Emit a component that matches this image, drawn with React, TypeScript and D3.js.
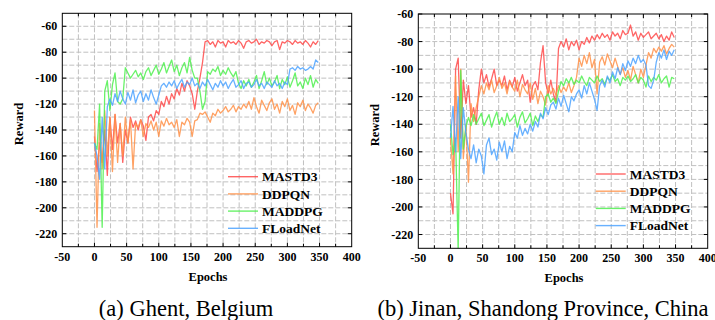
import * as d3 from "d3";
import React from "react";

// epochs sampled every 4 steps (0..348)
const EPOCHS = d3.range(0, 352, 4);
const SERIES_NAMES = ["MASTD3", "DDPQN", "MADDPG", "FLoadNet"];
const COLORS = ["#ff4a4a", "#ff9148", "#4ff04f", "#4ea3ff"];

const X_TICKS = [-50, 0, 50, 100, 150, 200, 250, 300, 350, 400];
const Y_TICKS_A = [-60, -80, -100, -120, -140, -160, -180, -200, -220];
const Y_TICKS_B = [-60, -80, -100, -120, -140, -160, -180, -200, -220];

// (a) Ghent, Belgium
const GHENT_MASTD3 = [
	-145, -172, -150, -165, -140, -175, -130, -155, -128, -150,
	-135, -165, -140, -150, -130, -138, -133, -140, -132, -137,
	-148, -130, -128, -133, -125, -128, -118, -122, -114, -120,
	-112, -116, -108, -113, -104, -110, -102, -106, -112, -124,
	-110, -100, -88, -72, -71, -74, -72, -76, -71, -73,
	-72, -76, -71, -73, -72, -74, -71, -73, -77, -72,
	-71, -73, -72, -70, -74, -72, -73, -71, -72, -75,
	-72, -71, -78, -72, -73, -71, -72, -74, -71, -73,
	-72, -74, -71, -73, -76, -72, -74, -71,
];
const GHENT_DDPQN = [
	-125, -215, -135, -170, -125, -160, -130, -172, -128, -165,
	-135, -160, -130, -150, -132, -170, -135, -138, -132, -145,
	-135, -138, -133, -140, -134, -145, -133, -137, -131, -136,
	-134, -138, -132, -145, -134, -136, -131, -134, -145, -133,
	-132, -127, -128, -126, -130, -134, -127, -129, -124, -127,
	-125, -122, -126, -124, -121, -126, -122, -124, -120, -123,
	-118, -124, -115, -122, -127, -117, -121, -125, -119, -116,
	-124, -120, -127, -118, -122, -116, -125, -121, -128, -119,
	-122, -117, -125, -120, -123, -127, -121, -119,
];
const GHENT_MADDPG = [
	-150, -155, -120, -215, -110, -102, -125, -105, -96, -118,
	-120, -116, -92, -96, -100, -97, -94, -99, -96, -101,
	-95, -92, -98, -94, -90, -97, -93, -88, -96, -91,
	-86, -95, -90, -98, -92, -88, -96, -84, -94, -100,
	-100, -110, -124, -118, -95, -97, -93, -95, -91, -98,
	-94, -97, -92, -96, -99, -95, -104, -108, -102, -106,
	-101, -107, -103, -98, -108, -102, -95, -105, -100, -106,
	-103, -98, -108, -101, -105, -99, -107, -102, -96, -106,
	-103, -108, -100, -105, -98, -107, -101, -104,
];
const GHENT_FLOADNET = [
	-150, -160, -178, -130, -170, -122, -116, -121, -112, -118,
	-110, -116, -120, -111, -117, -109, -119, -113, -110, -118,
	-112, -117, -109, -115, -120, -113, -106, -104, -107, -103,
	-106, -102, -108, -104, -101, -107, -103, -105, -100, -106,
	-104, -108, -103, -106, -101, -105, -109, -104, -107, -102,
	-106, -103, -108, -104, -101, -107, -105, -102, -108, -104,
	-103, -107, -105, -101, -106, -104, -108, -103, -105, -107,
	-102, -106, -104, -108, -103, -105, -93, -92, -94, -91,
	-93, -92, -94, -93, -91, -93, -86, -88,
];

// (b) Jinan, Shandong Province, China
const JINAN_MASTD3 = [
	-190, -205, -100, -92, -150, -108, -125, -112, -135, -128,
	-140, -115, -100, -110, -104, -113, -107, -100, -112, -108,
	-112, -105, -115, -108, -113, -106, -116, -110, -104, -112,
	-108, -124, -112, -109, -115, -95, -83, -110, -118, -108,
	-118, -124, -85, -80, -84, -78, -86, -80, -83, -79,
	-86, -80, -82, -77, -81, -76, -79, -75, -78, -74,
	-77, -75, -79, -73, -76, -74, -78, -72, -75, -74,
	-68, -76, -73, -79, -74, -77, -75, -73, -78, -76,
	-74, -78, -75, -80, -76, -79, -73, -77,
];
const JINAN_DDPQN = [
	-150, -176, -105, -160, -100, -165, -140, -182, -125, -138,
	-128, -120, -112, -118, -110, -115, -108, -117, -112, -106,
	-114, -110, -118, -109, -113, -116, -108, -120, -111, -115,
	-118, -110, -122, -114, -125, -116, -120, -126, -112, -118,
	-114, -119, -112, -117, -113, -116, -110, -117, -112, -106,
	-92, -98, -90, -96, -88, -99, -93, -118, -95, -91,
	-97, -89, -94, -99, -92, -98, -104, -99, -106, -101,
	-108, -98, -104, -110, -100, -106, -97, -88, -92, -85,
	-88, -84, -87, -83, -89, -85, -82, -84,
];
const JINAN_MADDPG = [
	-140, -162, -150, -232, -101, -158, -142, -135, -141, -133,
	-140, -136, -132, -141, -137, -133, -142, -136, -131, -140,
	-135, -141, -132, -138, -136, -133, -142, -135, -131, -139,
	-136, -132, -141, -134, -138, -133, -135, -120, -118, -124,
	-121, -125, -116, -109, -112, -107, -110, -106, -111, -108,
	-110, -105, -109, -112, -106, -108, -110, -105, -109, -107,
	-111, -106, -108, -104, -109, -107, -112, -106, -108, -105,
	-109, -107, -104, -110, -106, -108, -113, -105, -109, -106,
	-108, -104, -110, -107, -105, -113, -106, -107,
];
const JINAN_FLOADNET = [
	-150, -127, -160, -120, -165, -128, -146, -158, -165, -155,
	-168, -158, -163, -176, -155, -150, -162, -158, -166, -153,
	-160, -152, -165, -156, -160, -146, -150, -141, -148, -143,
	-147, -140, -145, -138, -142, -132, -136, -128, -133, -126,
	-124, -129, -121, -127, -119, -125, -131, -120, -123, -118,
	-115, -121, -112, -118, -110, -116, -122, -130, -112, -108,
	-113, -105, -110, -102, -107, -99, -104, -96, -101, -94,
	-98, -92, -96, -90, -95, -93, -97, -112, -114, -108,
	-95, -88, -92, -86, -93, -87, -90, -86,
];

const SERIF = "'Liberation Serif', 'Times New Roman', serif";

type PanelProps = {
	x0: number;
	x1: number;
	y0: number;
	y1: number;
	yTop: number;
	yTicks: number[];
	series: number[][];
	legendX: number;
	legendY: number;
	caption: string;
	captionX: number;
	id: string;
};

function Panel(p: PanelProps) {
	const x = d3.scaleLinear().domain([-50, 400]).range([p.x0, p.x1]);
	const y = d3.scaleLinear().domain([-230, p.yTop]).range([p.y1, p.y0]);

	const minorX = d3.range(-25, 400, 25);
	const minorY = d3.range(-220, p.yTop, 10);

	const line = d3
		.line<number>()
		.x((_, i) => x(EPOCHS[i]))
		.y((d) => y(d));

	return (
		<g>
			<defs>
				<clipPath id={p.id}>
					<rect x={p.x0} y={p.y0} width={p.x1 - p.x0} height={p.y1 - p.y0} />
				</clipPath>
			</defs>
			{/* grid */}
			{minorX.map((v) => (
				<line key={"gx" + v} x1={x(v)} x2={x(v)} y1={p.y0} y2={p.y1} stroke="#c0c0c0" strokeDasharray="5,2" />
			))}
			{minorY.map((v) => (
				<line key={"gy" + v} x1={p.x0} x2={p.x1} y1={y(v)} y2={y(v)} stroke="#c0c0c0" strokeDasharray="5,2" />
			))}
			{/* series */}
			<g clipPath={`url(#${p.id})`}>
				{p.series.map((s, i) => (
					<path key={i} d={line(s) ?? ""} fill="none" stroke={COLORS[i]} strokeWidth={1.3} strokeOpacity={0.85} strokeLinejoin="round" />
				))}
			</g>
			{/* frame */}
			<rect x={p.x0} y={p.y0} width={p.x1 - p.x0} height={p.y1 - p.y0} fill="none" stroke="#000" strokeWidth={1} />
			{/* ticks */}
			{minorX.map((v) => (
				<g key={"tx" + v}>
					<line x1={x(v)} x2={x(v)} y1={p.y1} y2={p.y1 - (v % 50 === 0 ? 4 : 3)} stroke="#000" />
					<line x1={x(v)} x2={x(v)} y1={p.y0} y2={p.y0 + (v % 50 === 0 ? 4 : 3)} stroke="#000" />
				</g>
			))}
			{p.yTicks.map((v) => (
				<g key={"ty" + v}>
					<line x1={p.x0} x2={p.x0 + 4} y1={y(v)} y2={y(v)} stroke="#000" />
					<line x1={p.x1} x2={p.x1 - 4} y1={y(v)} y2={y(v)} stroke="#000" />
				</g>
			))}
			{/* tick labels */}
			{p.yTicks.map((v) => (
				<text key={"ly" + v} x={p.x0 - 5} y={y(v)} dy="0.35em" textAnchor="end" fontFamily={SERIF} fontWeight="bold" fontSize={12}>
					{v}
				</text>
			))}
			{X_TICKS.map((v) => (
				<text key={"lx" + v} x={x(v)} y={p.y1 + 14} textAnchor="middle" fontFamily={SERIF} fontWeight="bold" fontSize={12}>
					{v}
				</text>
			))}
			{/* axis titles */}
			<text
				transform={`translate(${p.x0 - 44},${(p.y0 + p.y1) / 2 - 6}) rotate(-90)`}
				textAnchor="middle"
				dy="0.35em"
				fontFamily={SERIF}
				fontWeight="bold"
				fontSize={12.5}
			>
				Reward
			</text>
			<text x={(p.x0 + p.x1) / 2 + 1} y={p.y1 + 34} textAnchor="middle" fontFamily={SERIF} fontWeight="bold" fontSize={12.5}>
				Epochs
			</text>
			{/* legend */}
			{SERIES_NAMES.map((name, i) => (
				<g key={name} transform={`translate(${p.legendX},${p.legendY + i * 17.2})`}>
					<line x1={0} x2={30} y1={0} y2={0} stroke={COLORS[i]} strokeWidth={1.4} strokeOpacity={0.85} />
					<text x={34} y={0} dy="0.35em" fontFamily={SERIF} fontWeight="bold" fontSize={13.5}>
						{name}
					</text>
				</g>
			))}
			<text x={p.captionX} y={316} textAnchor="middle" fontFamily={SERIF} fontSize={22.5}>
				{p.caption}
			</text>
		</g>
	);
}

export default function App() {
	return (
		<svg width={715} height={320} style={{ position: "absolute", left: 0, top: 0, background: "#fff" }}>
			<Panel
				id="clipA"
				x0={62.3}
				x1={351.7}
				y0={13.3}
				y1={246.7}
				yTop={-50}
				yTicks={Y_TICKS_A}
				series={[GHENT_MASTD3, GHENT_DDPQN, GHENT_MADDPG, GHENT_FLOADNET]}
				legendX={228}
				legendY={176.7}
				caption="(a) Ghent, Belgium"
				captionX={186}
			/>
			<Panel
				id="clipB"
				x0={418.3}
				x1={707.7}
				y0={14}
				y1={248.3}
				yTop={-60}
				yTicks={Y_TICKS_B}
				series={[JINAN_MASTD3, JINAN_DDPQN, JINAN_MADDPG, JINAN_FLOADNET]}
				legendX={595.7}
				legendY={174}
				caption="(b) Jinan, Shandong Province, China"
				captionX={543}
			/>
		</svg>
	);
}
